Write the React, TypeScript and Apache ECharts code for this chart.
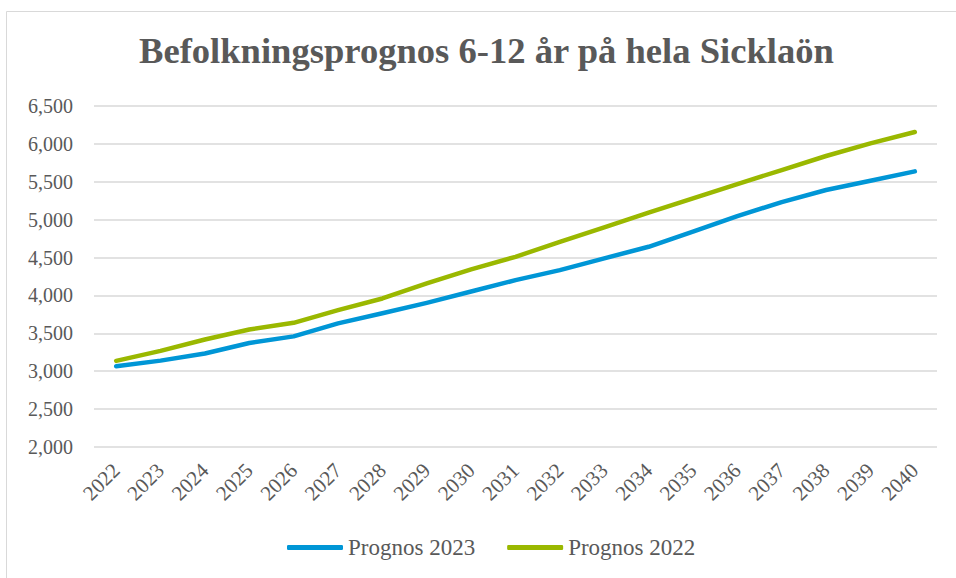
import React, { useEffect, useRef } from "react";
import * as echarts from "echarts";

const TITLE = "Befolkningsprognos 6-12 år på hela Sicklaön";
const YEARS = [
  "2022", "2023", "2024", "2025", "2026", "2027", "2028", "2029", "2030", "2031",
  "2032", "2033", "2034", "2035", "2036", "2037", "2038", "2039", "2040",
];
const PROGNOS_2023 = [
  3065, 3140, 3234, 3372, 3460, 3632, 3765, 3902, 4052, 4202,
  4334, 4489, 4642, 4841, 5047, 5232, 5391, 5514, 5637,
];
const PROGNOS_2022 = [
  3137, 3269, 3419, 3550, 3639, 3806, 3960, 4159, 4344, 4510,
  4708, 4898, 5092, 5281, 5470, 5655, 5840, 6007, 6157,
];
const SERIES_NAMES = ["Prognos 2023", "Prognos 2022"];
const COLORS = ["#0096D6", "#9AB800"];

const FONT = "'Liberation Serif', 'DejaVu Serif', serif";
const TEXT = "#595959";

function fmt(v: number): string {
  return String(v).replace(/\B(?=(\d{3})+(?!\d))/g, ",");
}

export default function App() {
  const ref = useRef<HTMLDivElement>(null);
  useEffect(() => {
    document.body.style.margin = "0";
    if (!ref.current) return;
    const chart = echarts.init(ref.current, undefined, { renderer: "svg" });
    chart.setOption({
      animation: false,
      backgroundColor: "#ffffff",
      title: {
        text: TITLE,
        left: 134,
        top: 27,
        textStyle: {
          fontFamily: FONT,
          fontWeight: "bold",
          fontSize: 36.6,
          color: TEXT,
        },
      },
      graphic: [
        {
          type: "rect",
          shape: { x: 6.5, y: 11.5, width: 1000, height: 1000 },
          style: { fill: "none", stroke: "#d9d9d9", lineWidth: 1 },
          silent: true,
        },
      ],
      legend: {
        bottom: 14,
        left: 282,
        icon: "roundRect",
        itemWidth: 56,
        itemHeight: 5,
        itemGap: 32,
        textStyle: { fontFamily: FONT, fontSize: 23, color: TEXT },
        data: SERIES_NAMES,
      },
      grid: { left: 94, right: 19, top: 106, bottom: 131, containLabel: false },
      xAxis: {
        type: "category",
        data: YEARS,
        boundaryGap: true,
        axisLine: { show: false },
        axisTick: { show: false },
        axisLabel: {
          rotate: 45,
          margin: 20,
          interval: 0,
          fontFamily: FONT,
          fontSize: 21,
          color: TEXT,
        },
      },
      yAxis: {
        type: "value",
        min: 2000,
        max: 6500,
        interval: 500,
        axisLine: { show: false },
        axisTick: { show: false },
        splitLine: { lineStyle: { color: "#d9d9d9", width: 1.5 } },
        axisLabel: {
          margin: 21,
          fontFamily: FONT,
          fontSize: 20,
          color: TEXT,
          formatter: (v: number) => fmt(v),
        },
      },
      series: [
        {
          name: SERIES_NAMES[0],
          type: "line",
          data: PROGNOS_2023,
          symbol: "none",
          lineStyle: { color: COLORS[0], width: 4.5, cap: "round", join: "round" },
          itemStyle: { color: COLORS[0] },
        },
        {
          name: SERIES_NAMES[1],
          type: "line",
          data: PROGNOS_2022,
          symbol: "none",
          lineStyle: { color: COLORS[1], width: 4.5, cap: "round", join: "round" },
          itemStyle: { color: COLORS[1] },
        },
      ],
    });
    return () => chart.dispose();
  }, []);
  return <div ref={ref} style={{ width: 956, height: 578 }} />;
}
